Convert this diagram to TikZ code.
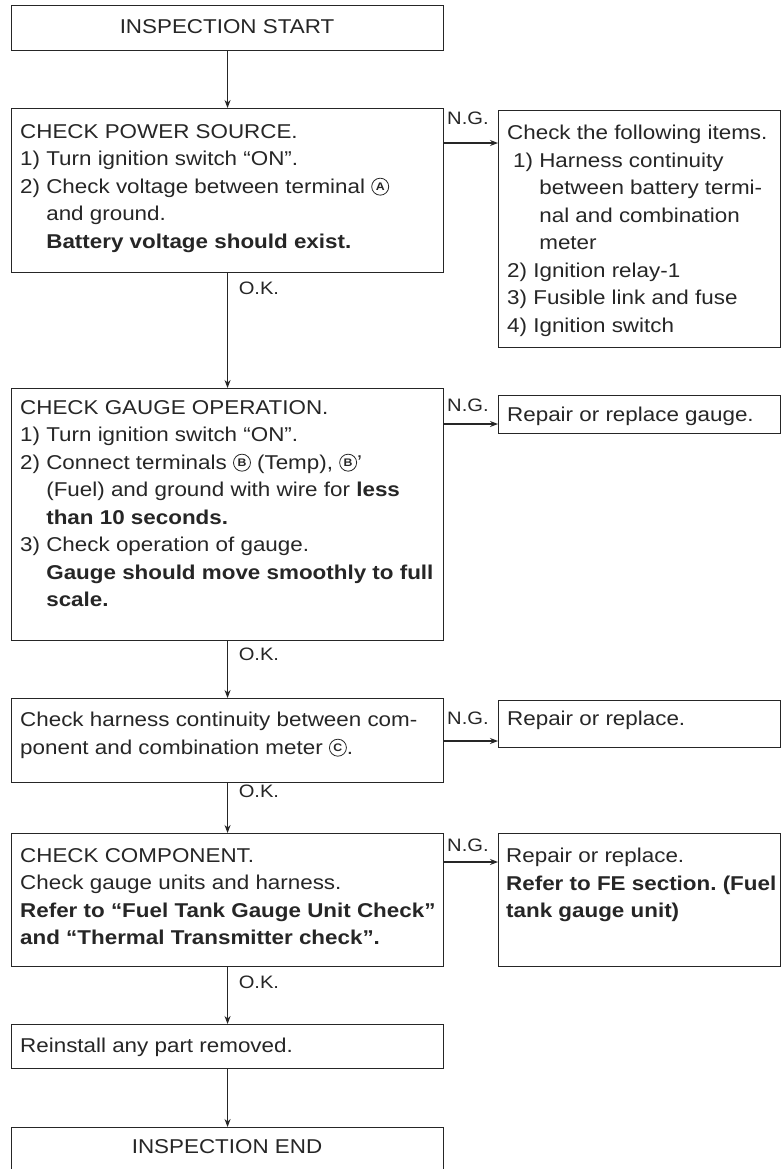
\documentclass[tikz,border=0pt]{standalone}
\usepackage{fontspec}
\setmainfont[FakeStretch=1.12]{Liberation Sans}
\usetikzlibrary{arrows.meta,calc}
\newcommand{\circl}[1]{\tikz[baseline={(0bp,-6.5bp)}]{\draw[line width=0.8bp, black!85] (0bp,0bp) circle (8.5bp); \path (0bp,0bp) node[anchor=center, inner sep=0pt, text=black!85, font=\fontsize{11bp}{11bp}\selectfont\bfseries] {#1};}}
\newcommand{\ind}{\hphantom{2)\ }}
\begin{document}
\begin{tikzpicture}[x=1bp,y=-1bp,
  box/.style={draw=black!85, line width=1.1bp, anchor=north west, inner sep=0pt},
  txt/.style={anchor=north west, inner sep=0pt, align=left, text=black!85,
    font=\fontsize{20bp}{27.5bp}\selectfont},
  ctxt/.style={inner sep=0pt, text=black!85, font=\fontsize{20bp}{26bp}\selectfont},
  lbl/.style={inner sep=0pt, text=black!85, font=\fontsize{18bp}{20bp}\selectfont},
  arr/.style={draw=black!85, line width=1.1bp, -{Stealth[length=8bp,width=6bp]}}]
\useasboundingbox (0,0) rectangle (782,1169);
\fill[white] (0,0) rectangle (782,1169);

% ---- main column boxes
\node[box, minimum width=432bp, minimum height=45bp] (start) at (11,5) {};
\node[ctxt] (startt) at (227,27) {INSPECTION START};

\node[box, minimum width=432bp, minimum height=164bp] (pwr) at (11,108) {};
\node[txt] (pwrt) at (20,124) {CHECK POWER SOURCE.\\
1) Turn ignition switch “ON”.\\
2) Check voltage between terminal \circl{A}\\
\ind and ground.\\
\ind\textbf{Battery voltage should exist.}};

\node[box, minimum width=432bp, minimum height=252bp] (gauge) at (11,388) {};
\node[txt] (gauget) at (20,400) {CHECK GAUGE OPERATION.\\
1) Turn ignition switch “ON”.\\
2) Connect terminals \circl{B} (Temp), \circl{B}'\\
\ind(Fuel) and ground with wire for \textbf{less}\\
\ind\textbf{than 10 seconds.}\\
3) Check operation of gauge.\\
\ind\textbf{Gauge should move smoothly to full}\\
\ind\textbf{scale.}};

\node[box, minimum width=432bp, minimum height=84bp] (harn) at (11,698) {};
\node[txt] (harnt) at (20,712) {Check harness continuity between com-\\
ponent and combination meter \circl{C}.};

\node[box, minimum width=432bp, minimum height=133bp] (comp) at (11,833) {};
\node[txt] (compt) at (20,848) {CHECK COMPONENT.\\
Check gauge units and harness.\\
\textbf{Refer to “Fuel Tank Gauge Unit Check”}\\
\textbf{and “Thermal Transmitter check”.}};

\node[box, minimum width=432bp, minimum height=44bp] (rein) at (11,1024) {};
\node[txt] (reint) at (20,1038) {Reinstall any part removed.};

\node[box, minimum width=432bp, minimum height=60bp] (endb) at (11,1127) {};
\node[ctxt] (endt) at (227,1147) {INSPECTION END};

% ---- right column boxes
\node[box, minimum width=282bp, minimum height=237bp] (r1) at (498,110) {};
\node[txt] (r1t) at (507,125) {Check the following items.\\
\hspace*{6bp}1) Harness continuity\\
\hspace*{6bp}\hphantom{1)\ }between battery termi-\\
\hspace*{6bp}\hphantom{1)\ }nal and combination\\
\hspace*{6bp}\hphantom{1)\ }meter\\
2) Ignition relay-1\\
3) Fusible link and fuse\\
4) Ignition switch};

\node[box, minimum width=282bp, minimum height=38bp] (r2) at (498,395) {};
\node[txt] (r2t) at (507,407) {Repair or replace gauge.};

\node[box, minimum width=282bp, minimum height=47bp] (r3) at (498,700) {};
\node[txt] (r3t) at (507,711) {Repair or replace.};

\node[box, minimum width=282bp, minimum height=133bp] (r4) at (498,833) {};
\node[txt] (r4t) at (506,848) {Repair or replace.\\
\textbf{Refer to FE section.\ (Fuel}\\
\textbf{tank gauge unit)}};

% ---- vertical connectors
\draw[arr] (start.south) -- (pwr.north);
\draw[arr] (pwr.south) -- (gauge.north);
\draw[arr] (gauge.south) -- (harn.north);
\draw[arr] (harn.south) -- (comp.north);
\draw[arr] (comp.south) -- (rein.north);
\draw[arr] (rein.south) -- (endb.north);

\node[lbl, anchor=north west] (ok1) at ($(pwr.south)+(11,9)$) {O.K.};
\node[lbl, anchor=north west] (ok2) at ($(gauge.south)+(11,7)$) {O.K.};
\node[lbl, anchor=north west] (ok3) at ($(harn.south)+(11,2)$) {O.K.};
\node[lbl, anchor=north west] (ok4) at ($(comp.south)+(11,9)$) {O.K.};

% ---- N.G. connectors
\coordinate (ng1) at (443,143);
\coordinate (ng2) at (443,424);
\coordinate (ng3) at (443,741);
\coordinate (ng4) at (443,862);
\draw[arr] (ng1) -- (ng1 -| r1.west);
\draw[arr] (ng2) -- (ng2 -| r2.west);
\draw[arr] (ng3) -- (ng3 -| r3.west);
\draw[arr] (ng4) -- (ng4 -| r4.west);

\node[lbl, anchor=west] (ng1l) at (447,118) {N.G.};
\node[lbl, anchor=west] (ng2l) at (447,405) {N.G.};
\node[lbl, anchor=west] (ng3l) at (447,718) {N.G.};
\node[lbl, anchor=west] (ng4l) at (447,845) {N.G.};
\end{tikzpicture}
\end{document}
